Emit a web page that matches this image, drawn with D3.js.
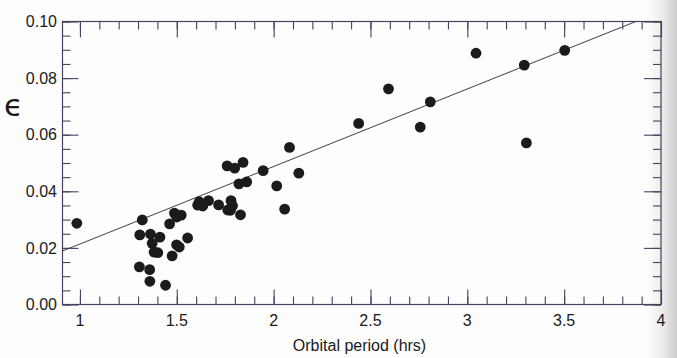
<!DOCTYPE html>
<html><head><meta charset="utf-8">
<script src="https://cdn.jsdelivr.net/npm/d3@7"></script>
<style>
html,body{margin:0;padding:0;background:#fdfdfd;}
svg{display:block;}
</style></head>
<body>
<svg id="chart" width="677" height="358"></svg>
<script>
// Orbital period (hrs)
const periods = [0.984,1.322,1.309,1.364,1.413,1.373,1.383,1.402,1.307,1.360,1.361,1.442,
  1.463,1.476,1.488,1.500,1.523,1.499,1.513,1.556,1.608,1.616,1.634,1.664,1.716,
  1.760,1.799,1.842,1.780,1.788,1.763,1.777,1.829,1.821,1.861,1.946,2.016,2.057,
  2.082,2.130,2.439,2.593,2.757,2.809,3.045,3.294,3.503,3.305];
// epsilon
const eps = [0.0287,0.0299,0.0246,0.0249,0.0238,0.0216,0.0185,0.0183,0.0133,0.0123,0.0082,0.0068,
  0.0285,0.0172,0.0323,0.0309,0.0316,0.0211,0.0203,0.0235,0.0351,0.0363,0.0348,0.0367,0.0352,
  0.0490,0.0482,0.0502,0.0367,0.0349,0.0334,0.0333,0.0317,0.0426,0.0433,0.0473,0.0419,0.0337,
  0.0555,0.0464,0.0640,0.0762,0.0627,0.0716,0.0888,0.0846,0.0898,0.0571];
// fitted line end points
const fitX = [0.91, 3.87];
const fitY = [0.0189, 0.100];
const xTickValues = [1,1.5,2,2.5,3,3.5,4];
const xTickLabels = ["1","1.5","2","2.5","3","3.5","4"];
const yTickValues = [0,0.02,0.04,0.06,0.08,0.10];
const yTickLabels = ["0.00","0.02","0.04","0.06","0.08","0.10"];
const xLabel = "Orbital period (hrs)";
const yLabel = "\u03F5";

const svg = d3.select("#chart");
const L = 62.5, R = 661, T = 21.5, B = 304.5;
const x = d3.scaleLinear().domain([0.91, 4]).range([L, R]);
const y = d3.scaleLinear().domain([0, 0.10]).range([B, T]);
const axisColor = "#4b3f5e";

// scan shadow at right edge
const defs = svg.append("defs");
const g1 = defs.append("linearGradient").attr("id","shade").attr("x1","0").attr("x2","1");
g1.append("stop").attr("offset","0").attr("stop-color","#fdfdfd");
g1.append("stop").attr("offset","0.5").attr("stop-color","#ececec");
g1.append("stop").attr("offset","1").attr("stop-color","#cdcdcd");
svg.append("rect").attr("x",648).attr("y",0).attr("width",29).attr("height",358).attr("fill","url(#shade)");

const xMinor = d3.range(10, 41).map(d => d/10);
const yMinor = d3.range(0, 21).map(d => d*0.005);

function styleAxis(g){
  g.select(".domain").remove();
  g.selectAll("line").attr("stroke", axisColor).attr("stroke-width", 1.1);
}
// bottom
svg.append("g").attr("transform",`translate(0,${B})`)
  .call(d3.axisBottom(x).tickValues(xMinor).tickSize(-8).tickFormat("")).call(styleAxis);
svg.append("g").attr("transform",`translate(0,${B})`)
  .call(d3.axisBottom(x).tickValues(xTickValues).tickSize(-15).tickFormat("")).call(styleAxis);
// top
svg.append("g").attr("transform",`translate(0,${T})`)
  .call(d3.axisTop(x).tickValues(xMinor).tickSize(-8).tickFormat("")).call(styleAxis);
svg.append("g").attr("transform",`translate(0,${T})`)
  .call(d3.axisTop(x).tickValues(xTickValues).tickSize(-16).tickFormat("")).call(styleAxis);
// left
svg.append("g").attr("transform",`translate(${L},0)`)
  .call(d3.axisLeft(y).tickValues(yMinor).tickSize(-8).tickFormat("")).call(styleAxis);
svg.append("g").attr("transform",`translate(${L},0)`)
  .call(d3.axisLeft(y).tickValues(yTickValues).tickSize(-16).tickFormat("")).call(styleAxis);
// right
svg.append("g").attr("transform",`translate(${R},0)`)
  .call(d3.axisRight(y).tickValues(yMinor).tickSize(-8).tickFormat("")).call(styleAxis);
svg.append("g").attr("transform",`translate(${R},0)`)
  .call(d3.axisRight(y).tickValues(yTickValues).tickSize(-17).tickFormat("")).call(styleAxis);

// frame
svg.append("rect").attr("x",L).attr("y",T).attr("width",R-L).attr("height",B-T)
  .attr("fill","none").attr("stroke",axisColor).attr("stroke-width",1.2);

// tick labels
const font = "'Liberation Sans', Arial, Helvetica, sans-serif";
svg.append("g").selectAll("text").data(xTickValues).join("text")
  .attr("x", d => x(d)).attr("y", B + 21.5)
  .attr("text-anchor","middle").attr("font-family",font).attr("font-size",16).attr("fill","#1a1a1a")
  .text((d,i) => xTickLabels[i]);
svg.append("g").selectAll("text").data(yTickValues).join("text")
  .attr("x", L - 5.5).attr("y", d => y(d)).attr("dy","0.36em")
  .attr("text-anchor","end").attr("font-family",font).attr("font-size",16).attr("fill","#1a1a1a")
  .text((d,i) => yTickLabels[i]);

// axis titles
svg.append("text").attr("x", 359.5).attr("y", 350.5).attr("text-anchor","middle")
  .attr("font-family",font).attr("font-size",16).attr("fill","#1a1a1a").text(xLabel);
svg.append("text").attr("x", 13.5).attr("y", 105).attr("dy","0.35em").attr("text-anchor","middle")
  .attr("font-family","'DejaVu Sans', sans-serif").attr("font-size",31).attr("fill","#1a1a1a").text(yLabel);

// clip
defs.append("clipPath").attr("id","clip").append("rect")
  .attr("x",L).attr("y",T).attr("width",R-L).attr("height",B-T);

// fit line
const fit = fitX.map((d,i) => [d, fitY[i]]);
svg.append("path").datum(fit).attr("clip-path","url(#clip)")
  .attr("d", d3.line().x(d => x(d[0])).y(d => y(d[1])))
  .attr("fill","none").attr("stroke","#3d3d55").attr("stroke-width",1);

// points
svg.append("g").selectAll("circle").data(periods).join("circle")
  .attr("cx", d => x(d)).attr("cy", (d,i) => y(eps[i])).attr("r", 5.4)
  .attr("fill","#1b1b1b");
</script>
</body></html>
